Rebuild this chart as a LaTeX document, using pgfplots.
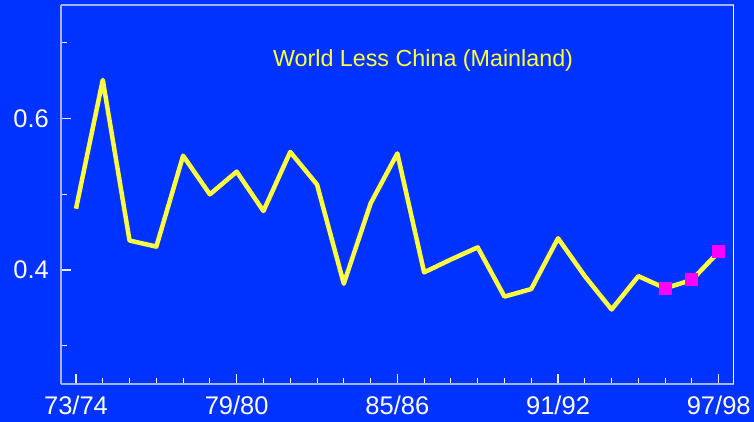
\documentclass[border=0pt]{standalone}
\usepackage{pgfplots}
\pgfplotsset{compat=1.18}
\usepackage{pgfplotstable}
\usepackage{fontspec}
\setmainfont{Liberation Sans}
\definecolor{bgblue}{RGB}{0,51,255}
\definecolor{frameblue}{RGB}{165,182,255}
\definecolor{lineyellow}{RGB}{255,255,64}
\definecolor{mag}{RGB}{255,0,255}
\pgfplotstableread{
x y
0 0.481
1 0.651
2 0.439
3 0.431
4 0.551
5 0.500
6 0.530
7 0.478
8 0.556
9 0.513
10 0.382
11 0.488
12 0.554
13 0.397
14 0.414
15 0.430
16 0.365
17 0.375
18 0.442
19 0.392
20 0.348
21 0.392
22 0.376
23 0.387
24 0.424
}\datatable
\pgfplotstableread{
x y
22 0.376
23 0.387
24 0.424
}\marktable
\begin{document}
\begin{tikzpicture}
\fill[bgblue] (0,0) rectangle (754bp,422bp);
\useasboundingbox (0,0) rectangle (754bp,422bp);
\begin{axis}[
  at={(61bp,38.3bp)}, anchor=south west,
  scale only axis, width=672.7bp, height=378.7bp,
  xmin=-0.56, xmax=24.56, ymin=0.25, ymax=0.75,
  axis x line*=bottom, axis y line*=left,
  axis line style={draw=frameblue, line width=1.6bp, -},
  xtick={0,6,12,18,24},
  xticklabels={73/74,79/80,85/86,91/92,97/98},
  minor xtick={1,2,3,4,5,7,8,9,10,11,13,14,15,16,17,19,20,21,22,23},
  ytick={0.4,0.6},
  yticklabels={0.4,0.6},
  minor ytick={0.3,0.5,0.7},
  /pgf/number format/assume math mode=true,
  tick align=inside,
  major tick length=10bp, minor tick length=6bp,
  minor tick style={draw=white, line width=1bp},
  major tick style={draw=white!80!frameblue, line width=1.4bp},
  ticklabel style={font=\fontsize{25.5bp}{30bp}\selectfont, text=white},
  xticklabel style={inner sep=0pt, anchor=north, yshift=-12bp},
  yticklabel style={inner sep=0pt, anchor=east, xshift=-12bp},
  clip=false,
]
\addplot[lineyellow, line width=4.5bp, line join=round, no marks] table[x=x,y=y] {\datatable};
\addplot[mag, only marks, mark=square*, mark size=6bp, mark options={fill=mag, draw=mag, line width=0pt}] table[x=x,y=y] {\marktable};
\draw[frameblue, line width=1.6bp] (rel axis cs:0,1) -- (rel axis cs:1,1);
\draw[white, line width=1bp] (rel axis cs:1,0) -- (rel axis cs:1,1);
\node[anchor=base, text=lineyellow, font=\fontsize{23.3bp}{27bp}\selectfont, inner sep=0pt] at (axis cs:12.96,0.669) {World Less China (Mainland)};
\end{axis}
\end{tikzpicture}
\end{document}
